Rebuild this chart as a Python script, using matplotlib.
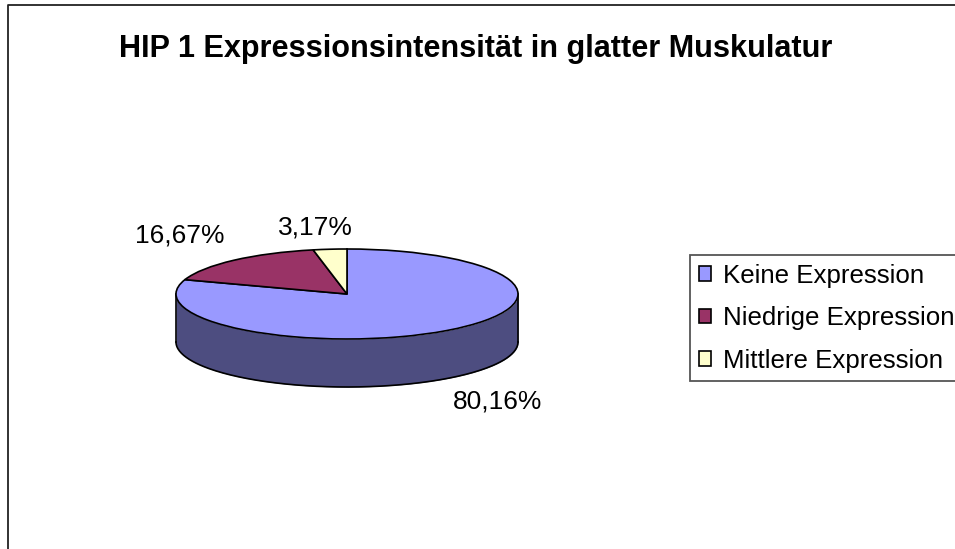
#!/usr/bin/env python3
"""HIP 1 Expressionsintensitaet: Excel-style 3D pie."""
import numpy as np
import matplotlib
matplotlib.use("Agg")
import matplotlib.pyplot as plt

plt.rcParams["font.family"] = ["Liberation Sans", "DejaVu Sans"]

W, H = 955, 549
TITLE = "HIP 1 Expressionsintensität in glatter Muskulatur"
CATEGORIES = ["Keine Expression", "Niedrige Expression", "Mittlere Expression"]
VALUES = [80.16, 16.67, 3.17]
COLORS = ["#9999FF", "#993366", "#FFFFCC"]
WALL_COLOR = "#4D4D80"

# pie ellipse in pixels
LEFT, RIGHT, TOP, BOTTOM = 176, 518, 249, 339
DEPTH = 48 / 45  # wall height in units of the vertical radius

fig = plt.figure(figsize=(W / 100, H / 100), dpi=100)
bg = fig.add_axes([0, 0, 1, 1])
bg.set_xlim(0, W)
bg.set_ylim(H, 0)
bg.axis("off")

# chart frame, only the left and top edges are inside the picture
bg.plot([8, 8, W], [H, 4.5, 4.5], color="#222222", lw=1.3)
bg.text(475.5, 48.5, TITLE, fontsize=22.05, fontweight="bold", ha="center", va="center", color="black")

ax = fig.add_axes([LEFT / W, 1 - BOTTOM / H, (RIGHT - LEFT) / W, (BOTTOM - TOP) / H])
wedges, _ = ax.pie(VALUES, colors=COLORS, startangle=90, counterclock=False,
                   wedgeprops={"edgecolor": "black", "linewidth": 1.2, "clip_on": False, "zorder": 3})
ax.set_aspect("auto")
ax.set_xlim(-1, 1)
ax.set_ylim(-1, 1)

t = np.linspace(np.pi, 2 * np.pi, 200)
ax.fill_between(np.cos(t), np.sin(t), np.sin(t) - DEPTH, color=WALL_COLOR, lw=0, clip_on=False, zorder=1)
ax.plot(np.cos(t), np.sin(t) - DEPTH, color="black", lw=1.2, clip_on=False, zorder=2)
for side in (-1, 1):
    ax.plot([side, side], [0, -DEPTH], color="black", lw=1.2, clip_on=False, zorder=2)

labels = [f"{v:.2f}%".replace(".", ",") for v in VALUES]
label_x = [498, 180, 315]
label_y = [401, 236, 228]
for text, x, y in zip(labels, label_x, label_y):
    bg.text(x, y, text, fontsize=19, ha="center", va="center", color="black")

leg = bg.legend(wedges, CATEGORIES, loc="upper left", bbox_to_anchor=(690 / W, 1 - 255 / H),
                fontsize=18.6, frameon=True, fancybox=False, framealpha=1, edgecolor="#555555",
                handlelength=0.5, handleheight=0.5, handletextpad=0.445, labelspacing=0.72,
                borderpad=0.33, borderaxespad=0)
leg.get_frame().set_linewidth(1.3)

fig.savefig("out.png", dpi=100)
